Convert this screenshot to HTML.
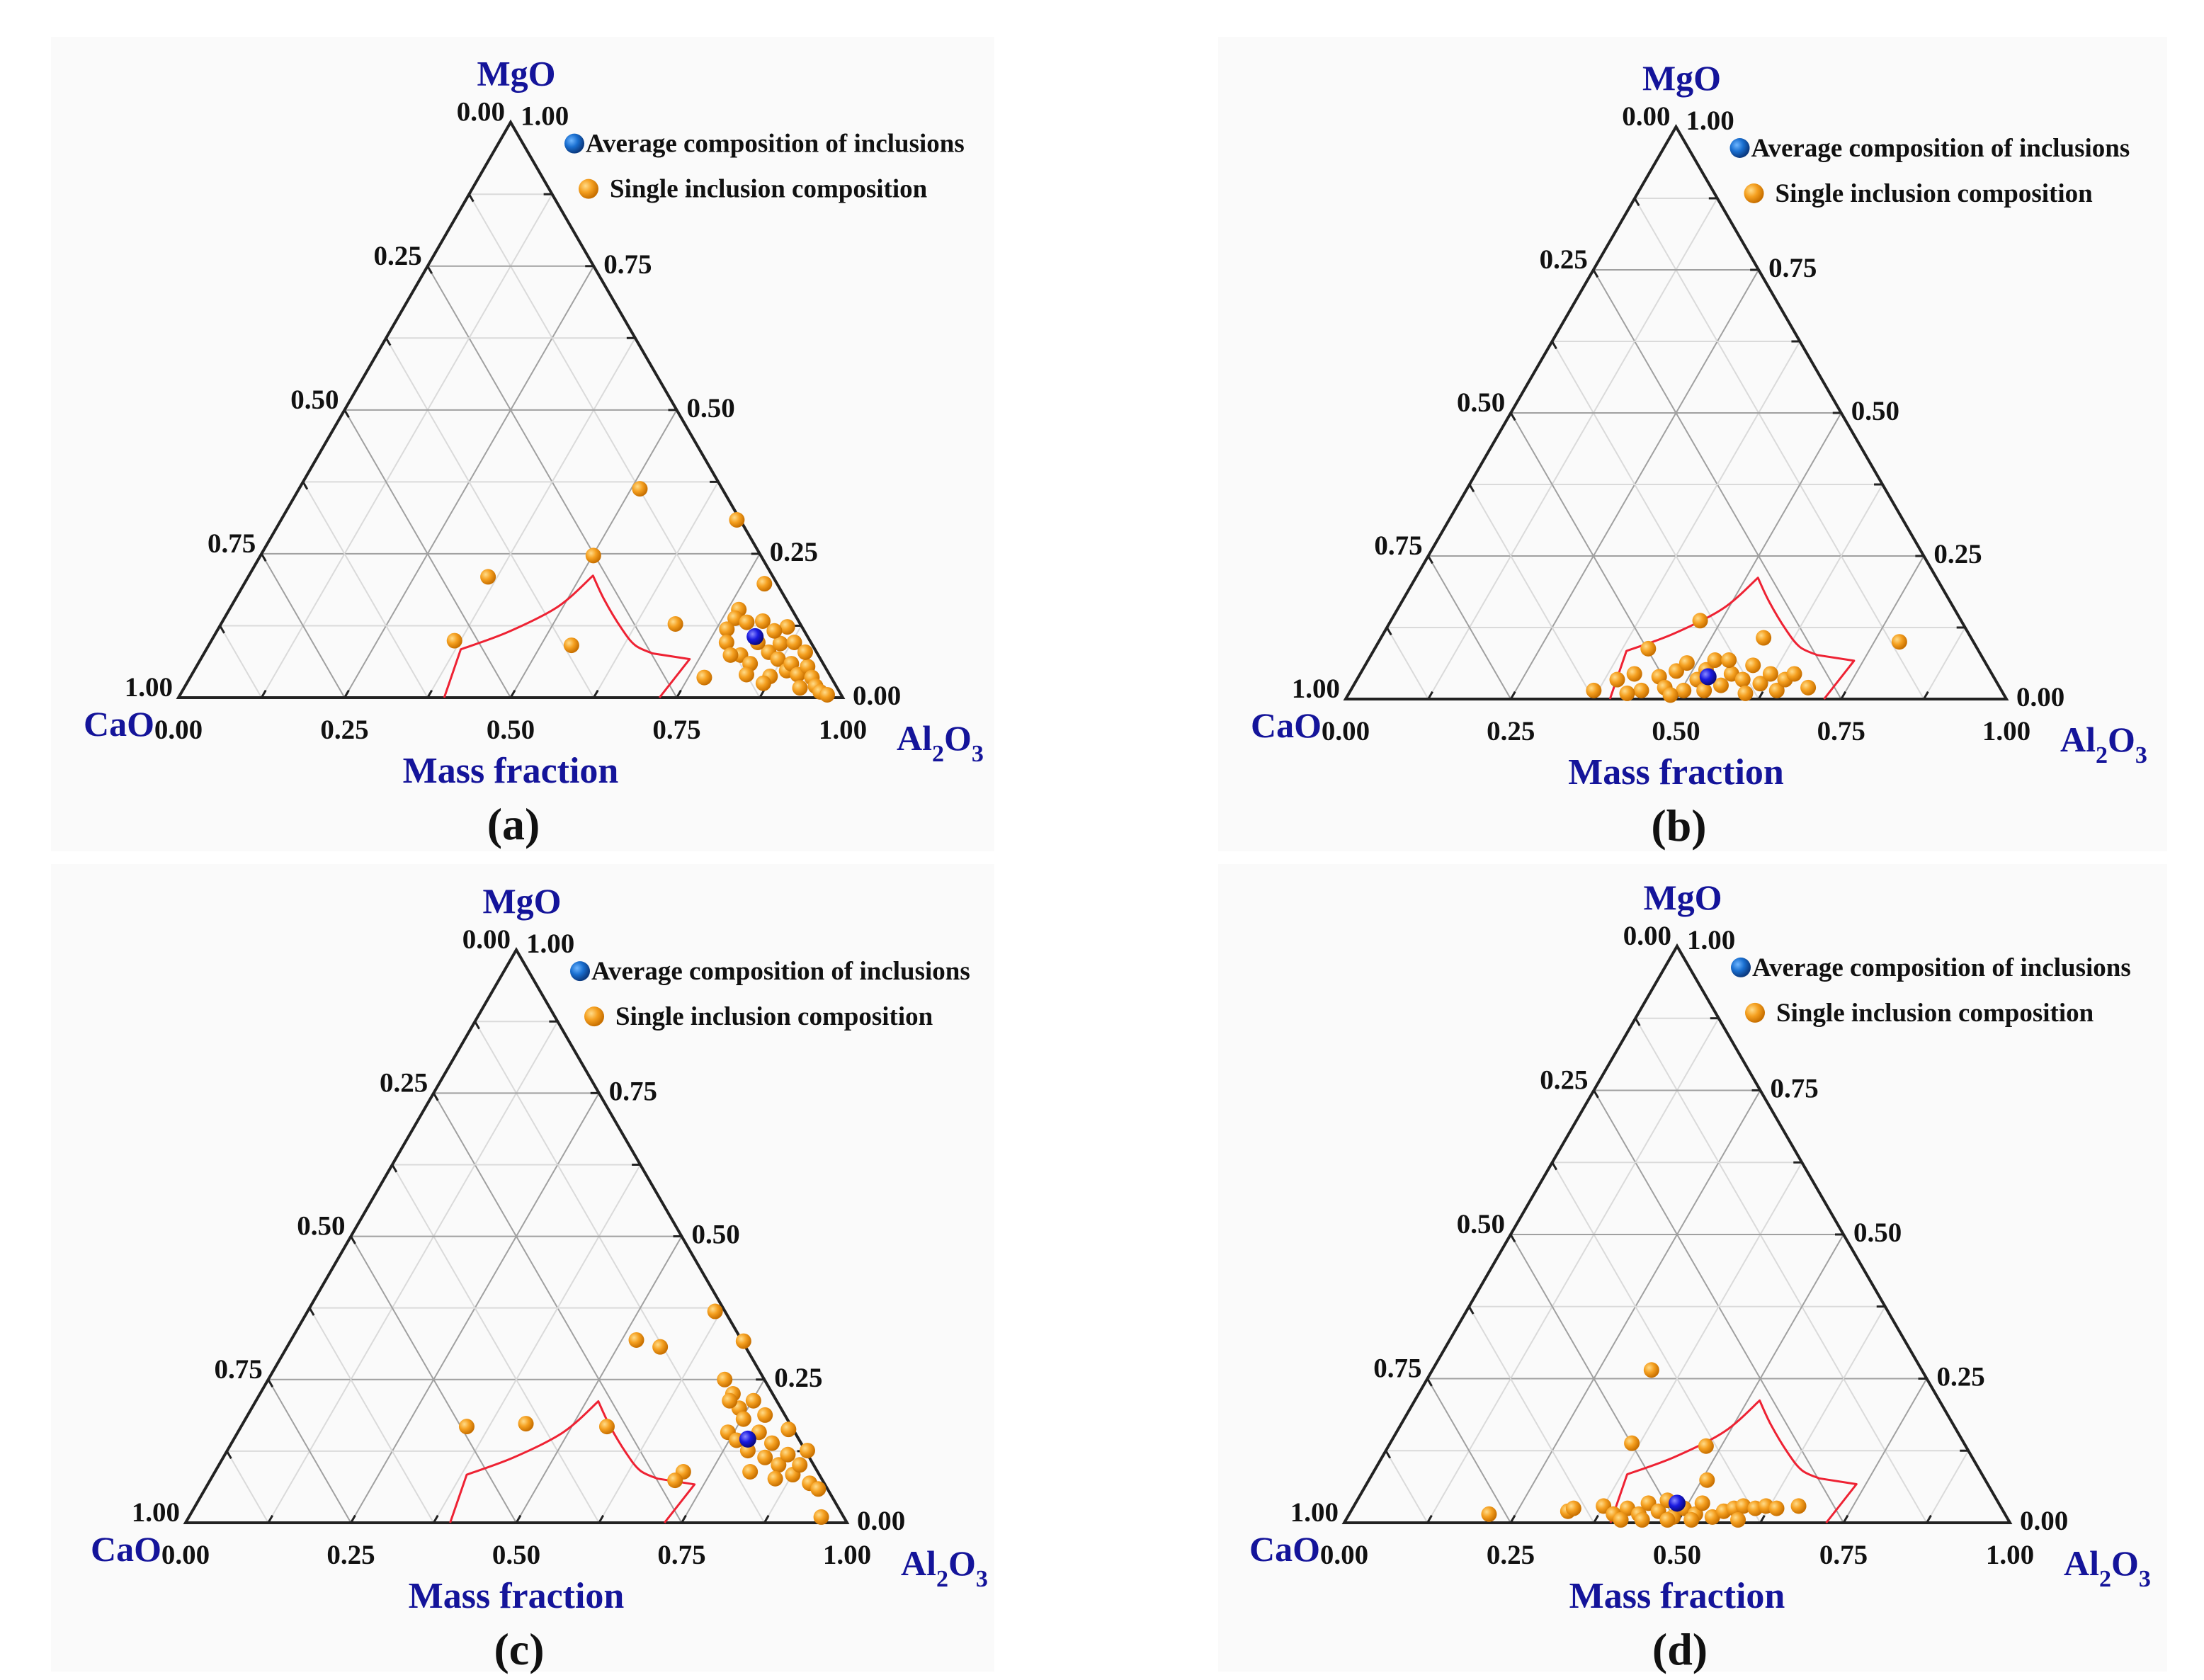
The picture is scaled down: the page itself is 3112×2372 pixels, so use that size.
<!DOCTYPE html>
<html><head><meta charset="utf-8">
<style>
html,body{margin:0;padding:0;background:#fff;}
svg{display:block;}
text{font-family:"Liberation Serif",serif;font-weight:bold;}
</style></head>
<body>
<svg id="fig" width="3112" height="2372" viewBox="0 0 3112 2372" xmlns="http://www.w3.org/2000/svg">
<defs>
<radialGradient id="gOr" cx="35%" cy="35%" r="65%"><stop offset="0" stop-color="#ffdc8a"/><stop offset="0.5" stop-color="#f5a020"/><stop offset="1" stop-color="#c87000"/></radialGradient>
<radialGradient id="gBl" cx="35%" cy="35%" r="65%"><stop offset="0" stop-color="#6fb6ff"/><stop offset="0.5" stop-color="#1a6fd0"/><stop offset="1" stop-color="#0b3a80"/></radialGradient>
<radialGradient id="gAvg" cx="35%" cy="35%" r="65%"><stop offset="0" stop-color="#8a8aff"/><stop offset="0.5" stop-color="#1a1ae0"/><stop offset="1" stop-color="#0a0a80"/></radialGradient>
</defs>
<rect x="72" y="52" width="1332" height="1150" fill="#fafafa"/>
<rect x="1720" y="52" width="1340" height="1150" fill="#fafafa"/>
<rect x="72" y="1220" width="1332" height="1140" fill="#fafafa"/>
<rect x="1720" y="1220" width="1340" height="1140" fill="#fafafa"/>
</svg>
<script>
// Liquid region boundary (Al2O3, MgO) fractions
const regionAl = [0.40, 0.383, 0.439, 0.492, 0.518, 0.556, 0.606, 0.642, 0.675, 0.736, 0.724];
const regionMg = [0.0, 0.084, 0.114, 0.158, 0.212, 0.170, 0.121, 0.091, 0.077, 0.067, 0.0];
const ticks = [0, 0.25, 0.5, 0.75, 1];
const tickLabels = ["0.00","0.25","0.50","0.75","1.00"];

// Panel (a)
const aAl = [0.513,0.686,0.501,0.361,0.366,0.546,0.684,0.783,0.774,0.767,0.769,0.766,0.790,0.813,0.855,0.777,0.809,0.794,0.831,0.849,0.859,0.869,0.892,0.872,0.868,0.893,0.912,0.920,0.936,0.949,0.961,0.974,0.927,0.879,0.904,0.839,0.824,0.835];
const aMg = [0.363,0.309,0.247,0.210,0.099,0.091,0.128,0.198,0.035,0.153,0.138,0.119,0.131,0.133,0.123,0.096,0.074,0.074,0.059,0.079,0.094,0.067,0.047,0.037,0.025,0.059,0.040,0.054,0.035,0.020,0.010,0.005,0.017,0.096,0.079,0.116,0.096,0.040];
const aAvg = [0.815, 0.106];
// Panel (b)
const bAl = [0.468,0.788,0.579,0.368,0.414,0.394,0.415,0.440,0.455,0.473,0.476,0.485,0.515,0.520,0.525,0.556,0.562,0.584,0.587,0.614,0.621,0.645,0.648,0.657,0.690,0.504,0.600,0.546,0.488,0.421,0.535];
const bMg = [0.137,0.100,0.107,0.015,0.088,0.034,0.044,0.015,0.039,0.020,0.049,0.063,0.034,0.051,0.068,0.024,0.044,0.034,0.059,0.027,0.044,0.015,0.034,0.044,0.020,0.015,0.010,0.068,0.007,0.010,0.015];
const bAvg = [0.529, 0.039];
// Panel (c)
const cAl = [0.522,0.564,0.341,0.428,0.553,0.708,0.703,0.616,0.685,0.690,0.715,0.737,0.741,0.753,0.752,0.782,0.788,0.817,0.787,0.819,0.846,0.851,0.876,0.878,0.909,0.927,0.853,0.761,0.809,0.956,0.877,0.716,0.830];
const cMg = [0.319,0.307,0.168,0.173,0.168,0.089,0.074,0.369,0.317,0.250,0.225,0.200,0.158,0.181,0.213,0.188,0.158,0.139,0.126,0.114,0.101,0.119,0.084,0.101,0.069,0.059,0.077,0.144,0.089,0.010,0.126,0.213,0.163];
const cAvg = [0.777, 0.146];
// Panel (d)
const dAl = [0.329,0.363,0.477,0.508,0.210,0.668,0.326,0.332,0.375,0.397,0.413,0.435,0.440,0.462,0.466,0.489,0.498,0.520,0.521,0.548,0.560,0.573,0.585,0.605,0.619,0.637,0.445,0.519,0.589,0.413,0.483];
const dMg = [0.265,0.138,0.133,0.074,0.015,0.029,0.020,0.025,0.029,0.015,0.025,0.015,0.034,0.020,0.039,0.010,0.025,0.015,0.034,0.010,0.020,0.025,0.029,0.025,0.029,0.025,0.005,0.005,0.005,0.005,0.005];
const dAvg = [0.483, 0.034];

const NS = "http://www.w3.org/2000/svg";
const svg = document.getElementById('fig');
function mk(tag, attrs, parent){const e=document.createElementNS(NS,tag);for(const k in attrs)e.setAttribute(k,attrs[k]);(parent||svg).appendChild(e);return e;}

function panel(id, L, base, W, al, mg, avg, letter){
  const H = W*Math.sqrt(3)/2;
  const px = (A,M)=> L + (A + M/2)*W;
  const py = (A,M)=> base - M*H;
  const g = mk('g',{});
  
  
  const gridG = mk('g',{},g);
  
  
  for(let i=1;i<8;i++){
    const f=i/8; const col = (i%2===0)?'#a0a0a0':'#dadada';
    mk('line',{x1:px(0,f),y1:py(0,f),x2:px(1-f,f),y2:py(1-f,f),stroke:col,'stroke-width':2},gridG);
    mk('line',{x1:px(f,0),y1:py(f,0),x2:px(f,1-f),y2:py(f,1-f),stroke:col,'stroke-width':2},gridG);
    mk('line',{x1:px(1-f,0),y1:py(1-f,0),x2:px(0,1-f),y2:py(0,1-f),stroke:col,'stroke-width':2},gridG);
    const tl=12;
    mk('line',{x1:px(f,0),y1:py(f,0),x2:px(f,0)+tl*0.5,y2:py(f,0)-tl*0.866,stroke:'#222','stroke-width':3},g);
    mk('line',{x1:px(1-f,f),y1:py(1-f,f),x2:px(1-f,f)-tl,y2:py(1-f,f),stroke:'#222','stroke-width':3},g);
    mk('line',{x1:px(0,1-f),y1:py(0,1-f),x2:px(0,1-f)+tl*0.5,y2:py(0,1-f)+tl*0.866,stroke:'#222','stroke-width':3},g);
  }
  const tri = mk('polygon',{points:`${px(0,0)},${py(0,0)} ${px(1,0)},${py(1,0)} ${px(0,1)},${py(0,1)}`,fill:'none',stroke:'#222','stroke-width':4,'stroke-linejoin':'miter'},g);
  
  
  // red region - smoothed through points
  const P = regionAl.map((a,i)=>[px(a,regionMg[i]), py(a,regionMg[i])]);
  let d='M'+P[0][0].toFixed(1)+','+P[0][1].toFixed(1)+' L'+P[1][0].toFixed(1)+','+P[1][1].toFixed(1);
  // smooth segments between index 1..4 and 4..8 (Catmull-Rom), sharp at peak
  function smooth(s,e){
    for(let i=s;i<e;i++){
      const p0=P[Math.max(i-1,s)],p1=P[i],p2=P[i+1],p3=P[Math.min(i+2,e)];
      const c1=[p1[0]+(p2[0]-p0[0])/6,p1[1]+(p2[1]-p0[1])/6];
      const c2=[p2[0]-(p3[0]-p1[0])/6,p2[1]-(p3[1]-p1[1])/6];
      d+=` C${c1[0].toFixed(1)},${c1[1].toFixed(1)} ${c2[0].toFixed(1)},${c2[1].toFixed(1)} ${p2[0].toFixed(1)},${p2[1].toFixed(1)}`;
    }
  }
  smooth(1,4); smooth(4,8);
  for(let i=9;i<P.length;i++) d+=' L'+P[i][0].toFixed(1)+','+P[i][1].toFixed(1);
  d = d.replace(/ L([^ ]*)$/, ' L'+P[9][0].toFixed(1)+','+P[9][1].toFixed(1)+' L$1');
  const reg = mk('path',{d:d,fill:'none',stroke:'#ee2233','stroke-width':3,'stroke-linejoin':'round'},g);
  
  
  const fs=39;
  for(let i=0;i<ticks.length;i++){
    const t=ticks[i];
    const b = mk('text',{x:px(t,0),y:base+58,'font-size':fs,'text-anchor':'middle',fill:'#111'},g);
    b.textContent=tickLabels[i];
    
    
    const lx=px(0,1-t), ly=py(0,1-t);
    const l = mk('text',{x:lx-8,y:ly-2,'font-size':fs,'text-anchor':'end',fill:'#111'},g);
    l.textContent=tickLabels[i];
    
    
    const rx=px(1-t,t), ry=py(1-t,t);
    const r = mk('text',{x:rx+14,y:ry+(t===1?4:10),'font-size':fs,'text-anchor':'start',fill:'#111'},g);
    r.textContent=tickLabels[i];
    
    
  }
  const tx=px(0,1), ty=py(0,1);
  const mgo = mk('text',{x:tx+8,y:ty-52,'font-size':50,'text-anchor':'middle',fill:'#14149a'},g);
  mgo.textContent='MgO';
  
  
  const cao = mk('text',{x:L-34,y:base+54,'font-size':50,'text-anchor':'end',fill:'#14149a'},g);
  cao.textContent='CaO';
  
  
  const alo = mk('text',{x:L+W+76,y:base+74,'font-size':50,'text-anchor':'start',fill:'#14149a'},g);
  alo.innerHTML='Al<tspan font-size="34" dy="16">2</tspan><tspan dy="-16">O</tspan><tspan font-size="34" dy="16">3</tspan>';
  
  
  const mf = mk('text',{x:L+W/2,y:base+120,'font-size':52,'text-anchor':'middle',fill:'#14149a'},g);
  mf.textContent='Mass fraction';
  
  
  const lt = mk('text',{x:L+W/2+4,y:base+200,'font-size':64,'text-anchor':'middle',fill:'#111'},g);
  lt.textContent='('+letter+')';
  
  
  const lg = mk('g',{},g);
  
  
  const c1 = mk('circle',{cx:tx+90,cy:ty+30,r:14,fill:'url(#gBl)'},lg);
  
  
  const t1 = mk('text',{x:tx+106,y:ty+42,'font-size':37,fill:'#111'},lg);
  t1.textContent='Average composition of inclusions';
  
  
  const c2 = mk('circle',{cx:tx+110,cy:ty+94,r:14,fill:'url(#gOr)'},lg);
  
  
  const t2 = mk('text',{x:tx+140,y:ty+106,'font-size':37,fill:'#111'},lg);
  t2.textContent='Single inclusion composition';
  
  
  for(let i=0;i<al.length;i++){
    const c = mk('circle',{cx:px(al[i],mg[i]),cy:py(al[i],mg[i]),r:11,fill:'url(#gOr)'},g);
    
    
  }
  const av = mk('circle',{cx:px(avg[0],avg[1]),cy:py(avg[0],avg[1]),r:12,fill:'url(#gAvg)'},g);
  
  
}
panel('a', 252, 985, 938, aAl, aMg, aAvg, 'a');
panel('b', 1900, 987, 933, bAl, bMg, bAvg, 'b');
panel('c', 262, 2150, 934, cAl, cMg, cAvg, 'c');
panel('d', 1898, 2150, 940, dAl, dMg, dAvg, 'd');
</script>
</body></html>
